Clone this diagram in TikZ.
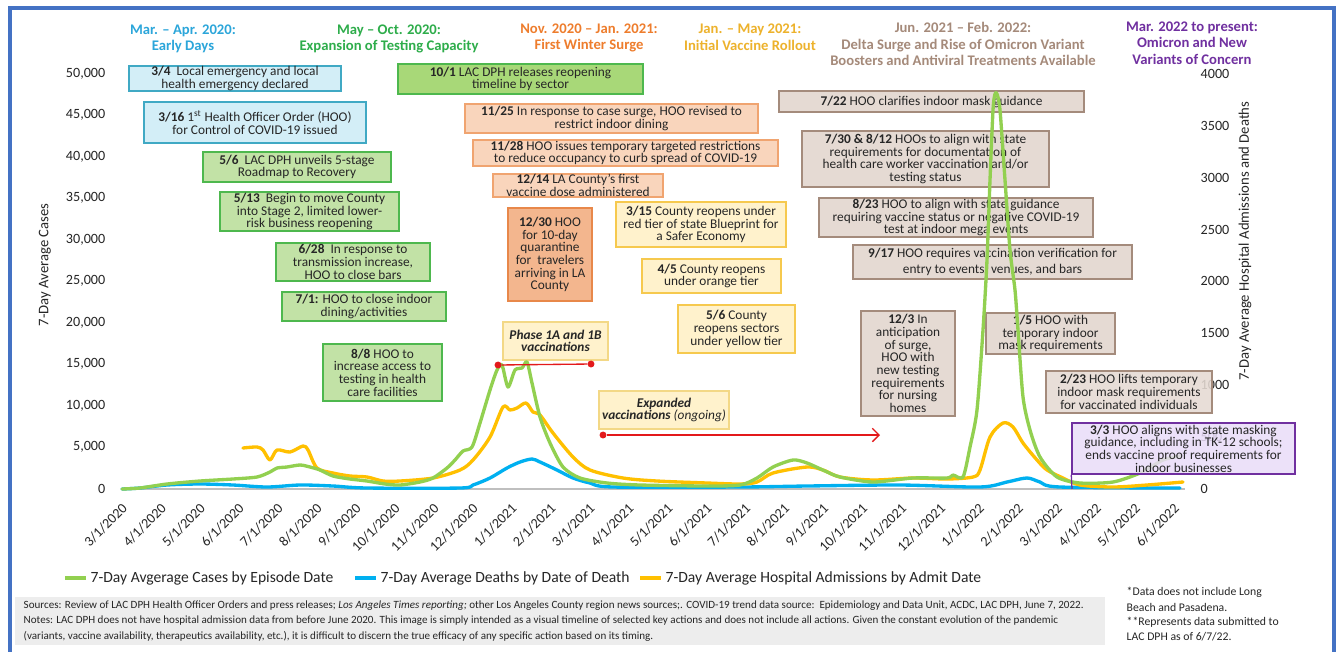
\documentclass[tikz,border=0pt]{standalone}
\usepackage{fontspec}
\setmainfont{Carlito}
\usetikzlibrary{arrows.meta}
\pgfdeclarelayer{bg}
\pgfsetlayers{bg,main}
\definecolor{frameblue}{HTML}{4472C4}
\definecolor{hdblue}{HTML}{2CA6DA}
\definecolor{hdgreen}{HTML}{2EAD4B}
\definecolor{hdorange}{HTML}{EE7D2D}
\definecolor{hdyellow}{HTML}{EDB22C}
\definecolor{hdbrown}{HTML}{A58A7A}
\definecolor{hdpurple}{HTML}{7030A0}
\definecolor{bfill}{HTML}{D3EEF7}
\definecolor{bline}{HTML}{40A9C4}
\definecolor{gfill}{HTML}{C2E2A6}
\definecolor{gfill2}{HTML}{A8D878}
\definecolor{gline}{HTML}{4EB84E}
\definecolor{ofill}{HTML}{F9D5BC}
\definecolor{ofill2}{HTML}{F3B68E}
\definecolor{oline}{HTML}{F0A470}
\definecolor{oline2}{HTML}{E8884A}
\definecolor{yfill}{HTML}{FFF2CC}
\definecolor{yline}{HTML}{F6C94E}
\definecolor{yline2}{HTML}{F3D886}
\definecolor{nfill}{HTML}{E5DAD3}
\definecolor{nline}{HTML}{A48B7C}
\definecolor{pfill}{HTML}{E9DCF8}
\definecolor{pline}{HTML}{7030A0}
\definecolor{cgreen}{HTML}{92D050}
\definecolor{cblue}{HTML}{00B0F0}
\definecolor{cyellow}{HTML}{FFC000}
\definecolor{axgray}{HTML}{BFBFBF}
\definecolor{txt}{HTML}{262626}
\definecolor{redl}{HTML}{E3191B}
\definecolor{footgray}{HTML}{EDEDED}
\newcommand\bxf{\fontsize{10}{9.5}\selectfont}
\newcommand\hdf{\fontsize{11}{12.5}\selectfont\bfseries}
\newcommand\axf{\fontsize{10.6}{13}\selectfont}
\newcommand\atf{\fontsize{11}{13}\selectfont}
\newcommand\lgf{\fontsize{11.7}{14}\selectfont}
\newcommand\ftf{\fontsize{8.3}{9}\selectfont}
\newcommand\ntf{\fontsize{8.8}{10}\selectfont}
\newcommand{\evbox}[7]{\node[#2, minimum width={(#5-#3)*0.75pt}, minimum height={(#6-#4)*0.75pt}] (#1) at ({(#3+#5)/2},{(#4+#6)/2}) {#7};}
\tikzset{
  evbox/.style={draw, line width=1.1pt, inner sep=0pt, align=center, font=\bxf, text=txt},
  bluebox/.style={evbox, fill=bfill, draw=bline},
  greenbox/.style={evbox, fill=gfill, draw=gline},
  orangebox/.style={evbox, fill=ofill, draw=oline},
  yellowbox/.style={evbox, fill=yfill, draw=yline},
  ybox2/.style={evbox, fill=yfill, draw=yline2},
  brownbox/.style={evbox, fill=nfill, draw=nline},
  purplebox/.style={evbox, fill=pfill, draw=pline, fill opacity=0.85, text opacity=1},
  evline/.style={line width=0.95pt},
  curve/.style={line width=2.5pt, line join=round, line cap=round},
  hdr/.style={font=\hdf, align=center},
  ytickl/.style={font=\axf, text=txt, anchor=east},
  ytickr/.style={font=\axf, text=txt, anchor=west},
  xtick/.style={font=\axf, text=txt, anchor=east, rotate=45},
  lgtext/.style={font=\lgf, text=txt, anchor=west},
  fttext/.style={font=\ftf, text=txt, anchor=west},
  nttext/.style={font=\ntf, text=txt, anchor=west},
  reddot/.style={circle, fill=redl, inner sep=0pt, minimum size=5.2pt},
}
\begin{document}
\begin{tikzpicture}[x=0.75pt,y=-0.75pt]
\useasboundingbox (0,0) rectangle (1339,651);
\fill[white] (0,0) rectangle (1339,651);
\draw[frameblue, line width=3pt] (10,670) -- (10,8) -- (1334,8) -- (1334,670);

% headers
\node[hdr, text=hdblue] (h1) at (183,39) {Mar. – Apr. 2020:\\Early Days};
\node[hdr, text=hdgreen] (h2) at (389,39) {May – Oct. 2020:\\Expansion of Testing Capacity};
\node[hdr, text=hdorange] (h3) at (589,38) {Nov. 2020 – Jan. 2021:\\First Winter Surge};
\node[hdr, text=hdyellow] (h4) at (750,37) {Jan. – May 2021:\\Initial Vaccine Rollout};
\node[hdr, text=hdbrown] (h5) at (963,44) {Jun. 2021 – Feb. 2022:\\Delta Surge and Rise of Omicron Variant\\Boosters and Antiviral Treatments Available};
\node[hdr, text=hdpurple] (h6) at (1192,43) {Mar. 2022 to present:\\Omicron and New\\Variants of Concern};

% axes
\foreach \v/\y in {50{,}000/74,45{,}000/115,40{,}000/157,35{,}000/198,30{,}000/240,25{,}000/281,20{,}000/323,15{,}000/364,10{,}000/406,5{,}000/447,0/489}
  \node[ytickl] at (110,\y) {\v};
\foreach \v/\y in {4000/74,3500/126,3000/178,2500/230,2000/281,1500/333,1000/385,500/437,0/489}
  \node[ytickr] at (1196,\y) {\v};
\node[font=\atf, text=txt, rotate=90] (yl) at (45,265) {7-Day Average Cases};
\node[font=\atf, text=txt, rotate=90] (yr) at (1245,241) {7-Day Average Hospital Admissions and Deaths};
\draw[axgray, line width=1pt] (122,489) -- (1185,489);
\foreach \lab [count=\i from 0] in {3/1/2020,4/1/2020,5/1/2020,6/1/2020,7/1/2020,8/1/2020,9/1/2020,10/1/2020,11/1/2020,12/1/2020,1/1/2021,2/1/2021,3/1/2021,4/1/2021,5/1/2021,6/1/2021,7/1/2021,8/1/2021,9/1/2021,10/1/2021,11/1/2021,12/1/2021,1/1/2022,2/1/2022,3/1/2022,4/1/2022,5/1/2022,6/1/2022}
  \node[xtick] at ({128+38.96*\i},503) {\lab};

% event boxes
\evbox{b34}{bluebox}{129}{66}{341}{91}{\textbf{3/4}\ \ Local emergency and local\\health emergency declared}
\evbox{b316}{bluebox}{144}{102}{366}{143}{\textbf{3/16}\ 1\textsuperscript{st} Health Officer Order (HOO)\\for Control of COVID-19 issued}
\evbox{b56}{greenbox}{203}{152}{391}{182}{\textbf{5/6}\ \ LAC DPH unveils 5-stage\\Roadmap to Recovery}
\evbox{b513}{greenbox}{220}{192}{399}{231}{\textbf{5/13}\ \ Begin to move County\\into Stage 2, limited lower-\\risk business reopening}
\evbox{b628}{greenbox}{276}{243}{430}{281}{\textbf{6/28}\ \ In response to\\transmission increase,\\HOO to close bars}
\evbox{b71}{greenbox}{282}{292}{446}{321}{\textbf{7/1:} HOO to close indoor\\dining/activities}
\evbox{b88}{greenbox}{323}{344}{442}{401}{\textbf{8/8} HOO to\\increase access to\\testing in health\\care facilities}
\evbox{b101}{greenbox, fill=gfill2}{398}{64}{643}{94}{\textbf{10/1} LAC DPH releases reopening\\timeline by sector}
\evbox{b1125}{orangebox}{465}{104}{758}{133}{\textbf{11/25} In response to case surge, HOO revised to\\restrict indoor dining}
\evbox{b1128}{orangebox}{473}{140}{778}{166}{\textbf{11/28} HOO issues temporary targeted restrictions\\to reduce occupancy to curb spread of COVID-19}
\evbox{b1214}{orangebox}{493}{174}{663}{197}{\textbf{12/14} LA County’s first\\vaccine dose administered}
\evbox{b1230}{orangebox, fill=ofill2, draw=oline2}{508}{208}{592}{301}{\textbf{12/30} HOO\\for 10-day\\quarantine\\for\ \ travelers\\arriving in LA\\County}
\evbox{ph}{ybox2}{503}{322}{608}{360}{\textbf{\textit{Phase 1A and 1B}}\\\textbf{\textit{vaccinations}}}
\evbox{ex}{ybox2}{599}{391}{729}{429}{\textbf{\textit{Expanded}}\\\textbf{\textit{vaccinations}} \textit{(ongoing)}}
\evbox{b315}{yellowbox}{616}{202}{786}{247}{\textbf{3/15} County reopens under\\red tier of state Blueprint for\\a Safer Economy}
\evbox{b45}{yellowbox}{642}{259}{781}{293}{\textbf{4/5} County reopens\\under orange tier}
\evbox{b56b}{yellowbox}{678}{305}{795}{353}{\textbf{5/6} County\\reopens sectors\\under yellow tier}
\evbox{b722}{brownbox}{779}{91}{1084}{112}{\textbf{7/22} HOO clarifies indoor mask guidance}
\evbox{b730}{brownbox}{802}{131}{1049}{187}{\textbf{7/30 \& 8/12} HOOs to align with state\\requirements for documentation of\\health care worker vaccination and/or\\testing status}
\evbox{b823}{brownbox}{819}{198}{1093}{237}{\textbf{8/23} HOO to align with state guidance\\requiring vaccine status or negative COVID-19\\test at indoor mega events}
\evbox{b917}{brownbox}{853}{245}{1132}{279}{\textbf{9/17} HOO requires vaccination verification for\\[2.5pt]entry to events, venues, and bars}
\evbox{b123}{brownbox}{861}{311}{955}{416}{\textbf{12/3} In\\anticipation\\of surge,\\HOO with\\new testing\\requirements\\for nursing\\homes}
\evbox{b15}{brownbox}{986}{313}{1115}{354}{\textbf{1/5} HOO with\\temporary indoor\\mask requirements}
\evbox{b223}{brownbox, fill opacity=0.88, text opacity=1}{1046}{371}{1212}{413}{\textbf{2/23} HOO lifts temporary\\indoor mask requirements\\for vaccinated individuals}

% line end points
\coordinate (e34) at (129,489);
\coordinate (e316) at (144,496);
\coordinate (e56) at (203,489);
\coordinate (e513) at (220,473);
\coordinate (e628) at (276,492);
\coordinate (e71) at (282,489);
\coordinate (e88) at (323,478);
\coordinate (e101) at (398,489);
\coordinate (e1125) at (465,480);
\coordinate (e1128) at (473,492);
\coordinate (e1214) at (493,492);
\coordinate (e1230) at (508,492);
\coordinate (e315) at (616,490);
\coordinate (e45) at (642,490);
\coordinate (e56b) at (678,480);
\coordinate (e722) at (779,490);
\coordinate (e730) at (802,490);
\coordinate (e823) at (819,490);
\coordinate (e917) at (853,490);
\coordinate (e123) at (955,480);
\coordinate (e15) at (986,482);
\coordinate (e223) at (1046,482);
\coordinate (t223) at (1046,368);

\begin{pgfonlayer}{bg}
\draw[evline, bline] (b34.north west) -- (e34);
\draw[evline, bline!80!black] (b316.north west) -- (e316);
\draw[evline, gline!80] (b56.north west) -- (e56);
\draw[evline, gline!80] (b513.north west) -- (e513);
\draw[evline, bline!80!black] (b628.north west) -- (e628);
\draw[evline, gline!80] (b71.north west) -- (e71);
\draw[evline, gline!80] (b88.north west) -- (e88);
\draw[evline, gline!80] (b101.north west) -- (e101);
\draw[evline, oline] (b1125.north west) -- (e1125);
\draw[evline, oline] (b1128.north west) -- (e1128);
\draw[evline, oline!90!black] (b1214.north west) -- (e1214);
\draw[evline, oline2] (b1230.north west) -- (e1230);
\draw[evline, yline] (b315.north west) -- (e315);
\draw[evline, yline] (b45.north west) -- (e45);
\draw[evline, yline] (b56b.north west) -- (e56b);
\draw[evline, nline] (b722.north west) -- (e722);
\draw[evline, nline] (b730.north west) -- (e730);
\draw[evline, nline] (b823.north west) -- (e823);
\draw[evline, nline] (b917.north west) -- (e917);
\draw[evline, nline] (b123.north east) -- (e123);
\draw[evline, nline] (b15.north west) -- (e15);
\draw[evline, nline] (t223) -- (e223);
\end{pgfonlayer}

% curves
\draw[curve, cblue] plot[smooth, tension=0.5] coordinates {(122,489) (140,488) (167,485) (200,484) (233,485) (267,487) (300,485) (333,486) (367,488) (460,488) (473,485) (490,478) (507,468) (520,462) (532,459) (540,462) (557,470) (573,478) (590,483) (613,487) (740,487) (807,486) (900,485) (980,487) (1007,482) (1027,478) (1040,482) (1060,487) (1180,488)};
\draw[curve, cyellow] plot[smooth, tension=0.5] coordinates {(243,448) (257,447) (263,450) (270,460) (277,450) (290,452) (303,446) (308,450) (317,468) (333,473) (350,476) (367,477) (383,481) (400,481) (433,478) (460,470) (473,460) (490,437) (503,407) (510,410) (517,408) (526,403) (533,412) (540,415) (553,433) (573,457) (590,470) (623,478) (657,481) (707,483) (740,484) (757,482) (773,473) (807,467) (823,470) (840,477) (873,480) (913,478) (947,479) (973,477) (980,470) (990,437) (1003,423) (1013,427) (1023,443) (1037,460) (1047,470) (1063,478) (1080,485) (1113,487) (1147,485) (1183,482)};
\draw[curve, cgreen] plot[smooth, tension=0.45] coordinates {(122,489) (140,488) (167,484) (200,481) (233,479) (257,477) (270,472) (277,468) (287,467) (300,465) (310,467) (320,470) (333,476) (350,479) (367,481) (385,484) (400,485) (420,482) (433,478) (447,468) (455,460) (463,451) (472,447) (480,423) (490,390) (497,370) (502,365) (508,387) (515,370) (522,368) (527,362) (532,383) (540,417) (550,443) (563,467) (580,478) (607,483) (640,485) (707,486) (740,485) (757,478) (773,467) (793,460) (807,463) (825,471) (840,477) (873,482) (913,478) (947,478) (953,475) (963,477) (970,447) (977,410) (983,330) (987,260) (990,180) (993,110) (995,94) (997,94) (1000,110) (1005,180) (1010,250) (1015,290) (1018,330) (1023,397) (1030,430) (1040,457) (1057,477) (1080,483) (1113,482) (1140,473) (1163,460) (1180,456)};

% vaccination markers
\node[reddot] (p1) at (498,365) {};
\node[reddot] (p2) at (591,364) {};
\draw[redl, line width=1pt] (p1) -- (p2);
\node[reddot] (x1) at (603,435) {};
\coordinate (x2) at (880,435);
\draw[redl, line width=1pt, -{Straight Barb[length=5pt,width=10pt]}] (x1) -- (x2);

% purple box on top
\evbox{b33}{purplebox}{1072}{423}{1295}{474}{\textbf{3/3} HOO aligns with state masking\\guidance, including in TK-12 schools;\\ends vaccine proof requirements for\\indoor businesses}
\coordinate (e33) at (1072,489);
\draw[evline, pline] (b33.south west) -- (e33);

% legend
\draw[cgreen, line width=3pt] (65,578) -- (86,578);
\node[lgtext] (l1) at (86,578) {7-Day Avgerage Cases by Episode Date};
\draw[cblue, line width=3pt] (355,578) -- (376,578);
\node[lgtext] (l2) at (376,578) {7-Day Average Deaths by Date of Death};
\draw[cyellow, line width=3pt] (640,578) -- (661,578);
\node[lgtext] (l3) at (661,578) {7-Day Average Hospital Admissions by Admit Date};

% footer
\fill[footgray] (15,597) rectangle (1105,645);
\node[fttext] (f1) at (19,606) {Sources: Review of LAC DPH Health Officer Orders and press releases; \textit{Los Angeles Times reporting;} other Los Angeles County region news sources;. COVID-19 trend data source:\ \ Epidemiology and Data Unit, ACDC, LAC DPH, June 7, 2022.};
\node[fttext] (f2) at (19,621) {Notes: LAC DPH does not have hospital admission data from before June 2020. This image is simply intended as a visual timeline of selected key actions and does not include all actions. Given the constant evolution of the pandemic};
\node[fttext] (f3) at (19,636) {(variants, vaccine availability, therapeutics availability, etc.), it is difficult to discern the true efficacy of any specific action based on its timing.};
\node[nttext] (n1) at (1122,592) {*Data does not include Long};
\node[nttext] (n2) at (1122,607) {Beach and Pasadena.};
\node[nttext] (n3) at (1122,622) {**Represents data submitted to};
\node[nttext] (n4) at (1122,637) {LAC DPH as of 6/7/22.};
\end{tikzpicture}
\end{document}
